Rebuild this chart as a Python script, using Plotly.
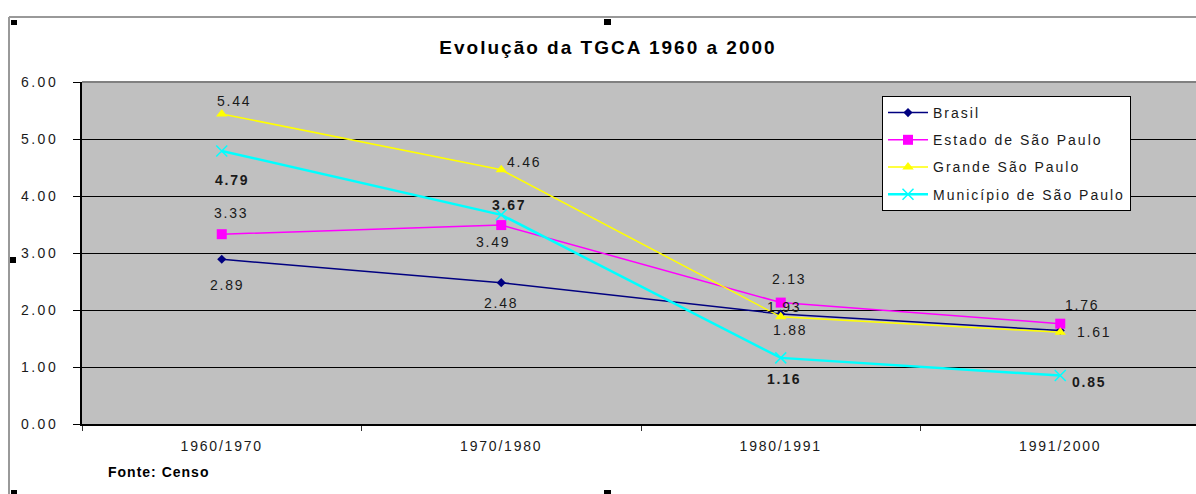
import plotly.graph_objects as go

categories = ["1960/1970", "1970/1980", "1980/1991", "1991/2000"]
brasil = [2.89, 2.48, 1.93, 1.64]
estado_sp = [3.33, 3.49, 2.13, 1.76]
grande_sp = [5.44, 4.46, 1.88, 1.61]
municipio_sp = [4.79, 3.67, 1.16, 0.85]
y_ticks = [0, 1, 2, 3, 4, 5, 6]

FONT = "Liberation Sans, Arial, sans-serif"


def spaced(txt, px):
    return f'<span style="letter-spacing:{px}px">{txt}</span>'


# name, values, color, marker, line width, label offsets (dx, dy px; None = hidden), bold labels
series = [
    ("Brasil", brasil, "#000080", dict(symbol="diamond", size=7), 1.5,
     [(5, -26), (0, -20), (3, 7), None], False),
    ("Estado de São Paulo", estado_sp, "#FF00FF", dict(symbol="square", size=10), 1.5,
     [(9, 21), (-8, -17), (8, 24), (22, 19)], False),
    ("Grande São Paulo", grande_sp, "#FFFF00", dict(symbol="triangle-up", size=10), 1.5,
     [(12, 13), (23, 8), (9, -13), (34, 0)], False),
    ("Município de São Paulo", municipio_sp, "#00FFFF",
     dict(symbol="x-thin-open", size=11, line=dict(width=1.5, color="#00FFFF")), 2.5,
     [(10, -29), (8, 10), (3, -21), (29, -6)], True),
]

fig = go.Figure()
for name, vals, color, marker, lw, offs, bold in series:
    fig.add_trace(go.Scatter(
        x=categories, y=vals, name=spaced(name, 2), legendgroup=name,
        mode="lines+markers",
        line=dict(color=color, width=lw),
        marker=dict(color=color, **marker),
    ))
    for cat, v, off in zip(categories, vals, offs):
        if off is None:
            continue
        txt = f"{v:.2f}"
        if bold:
            txt = f"<b>{txt}</b>"
        fig.add_annotation(
            x=cat, y=v, xref="x", yref="y", text=spaced(txt, 1.8),
            showarrow=False, xshift=off[0], yshift=off[1],
            font=dict(family=FONT, size=14, color="#1a1a1a"),
        )

# helpers: pixel -> paper coordinates
L, R, T, B = 82, 1196, 82, 424


def px(x):
    return (x - L) / (R - L)


def py(y):
    return (B - y) / (B - T)


shapes = [
    # outer chart frame (cropped)
    dict(type="line", xref="paper", yref="paper", x0=px(9), x1=px(1200), y0=py(17), y1=py(17),
         line=dict(color="#999999", width=2)),
    dict(type="line", xref="paper", yref="paper", x0=px(9), x1=px(9), y0=py(17), y1=py(500),
         line=dict(color="#999999", width=2)),
    # top edge of plot area
    dict(type="line", xref="paper", yref="paper", x0=0, x1=1.01, y0=1, y1=1,
         line=dict(color="#808080", width=2)),
]
for x0, y0, x1, y1 in [(11, 20, 17, 25), (604, 19, 611, 25), (10, 257, 16, 263),
                       (11, 490, 17, 494), (604, 490, 611, 494)]:
    shapes.append(dict(type="rect", xref="paper", yref="paper",
                       x0=px(x0), x1=px(x1), y0=py(y0), y1=py(y1),
                       fillcolor="black", line=dict(width=0)))

fig.add_annotation(
    x=px(106), y=py(472), xref="paper", yref="paper", xanchor="left", yanchor="middle",
    text=spaced("<b>Fonte: Censo</b>", 1), showarrow=False,
    font=dict(family=FONT, size=14, color="black"),
)

fig.update_layout(
    width=1196, height=494,
    margin=dict(l=L, r=1196 - R, t=T, b=494 - B),
    paper_bgcolor="white", plot_bgcolor="#C0C0C0",
    font=dict(family=FONT, size=14, color="#1a1a1a"),
    title=dict(text=spaced("<b>Evolução da TGCA 1960 a 2000</b>", 2),
               x=608 / 1196, xanchor="center", y=1 - 47 / 494, yanchor="middle",
               font=dict(family=FONT, size=19, color="black")),
    showlegend=True,
    legend=dict(x=px(882), y=py(96), xanchor="left", yanchor="top",
                bgcolor="white", bordercolor="black", borderwidth=1,
                font=dict(family=FONT, size=14, color="#1a1a1a"),
                tracegroupgap=6, itemwidth=40),
    shapes=shapes,
)
fig.update_xaxes(
    type="category", range=[-0.5, -0.5 + (R - L) / 279.5], automargin=False,
    showgrid=False, showline=True, linecolor="black", linewidth=2,
    ticks="outside", tickson="boundaries", ticklen=5, tickcolor="#333",
    tickvals=categories, ticktext=[spaced(c, 1.8) for c in categories],
    ticklabelstandoff=8,
    tickfont=dict(family=FONT, size=14, color="#1a1a1a"),
)
fig.update_yaxes(
    range=[0, 6], tickvals=y_ticks, ticktext=[spaced(f"{v:.2f}", 2.5) for v in y_ticks],
    automargin=False,
    showgrid=True, gridcolor="black", gridwidth=1,
    showline=True, linecolor="black", linewidth=2,
    ticks="outside", ticklen=7, tickcolor="black",
    ticklabelstandoff=12, zeroline=False,
    tickfont=dict(family=FONT, size=14, color="#1a1a1a"),
)

# drop the browser's default 8px body margin so the figure sits at the page origin
fig.write_html("out.html", config={"displayModeBar": False},
               post_script="document.body.style.margin='0';")
